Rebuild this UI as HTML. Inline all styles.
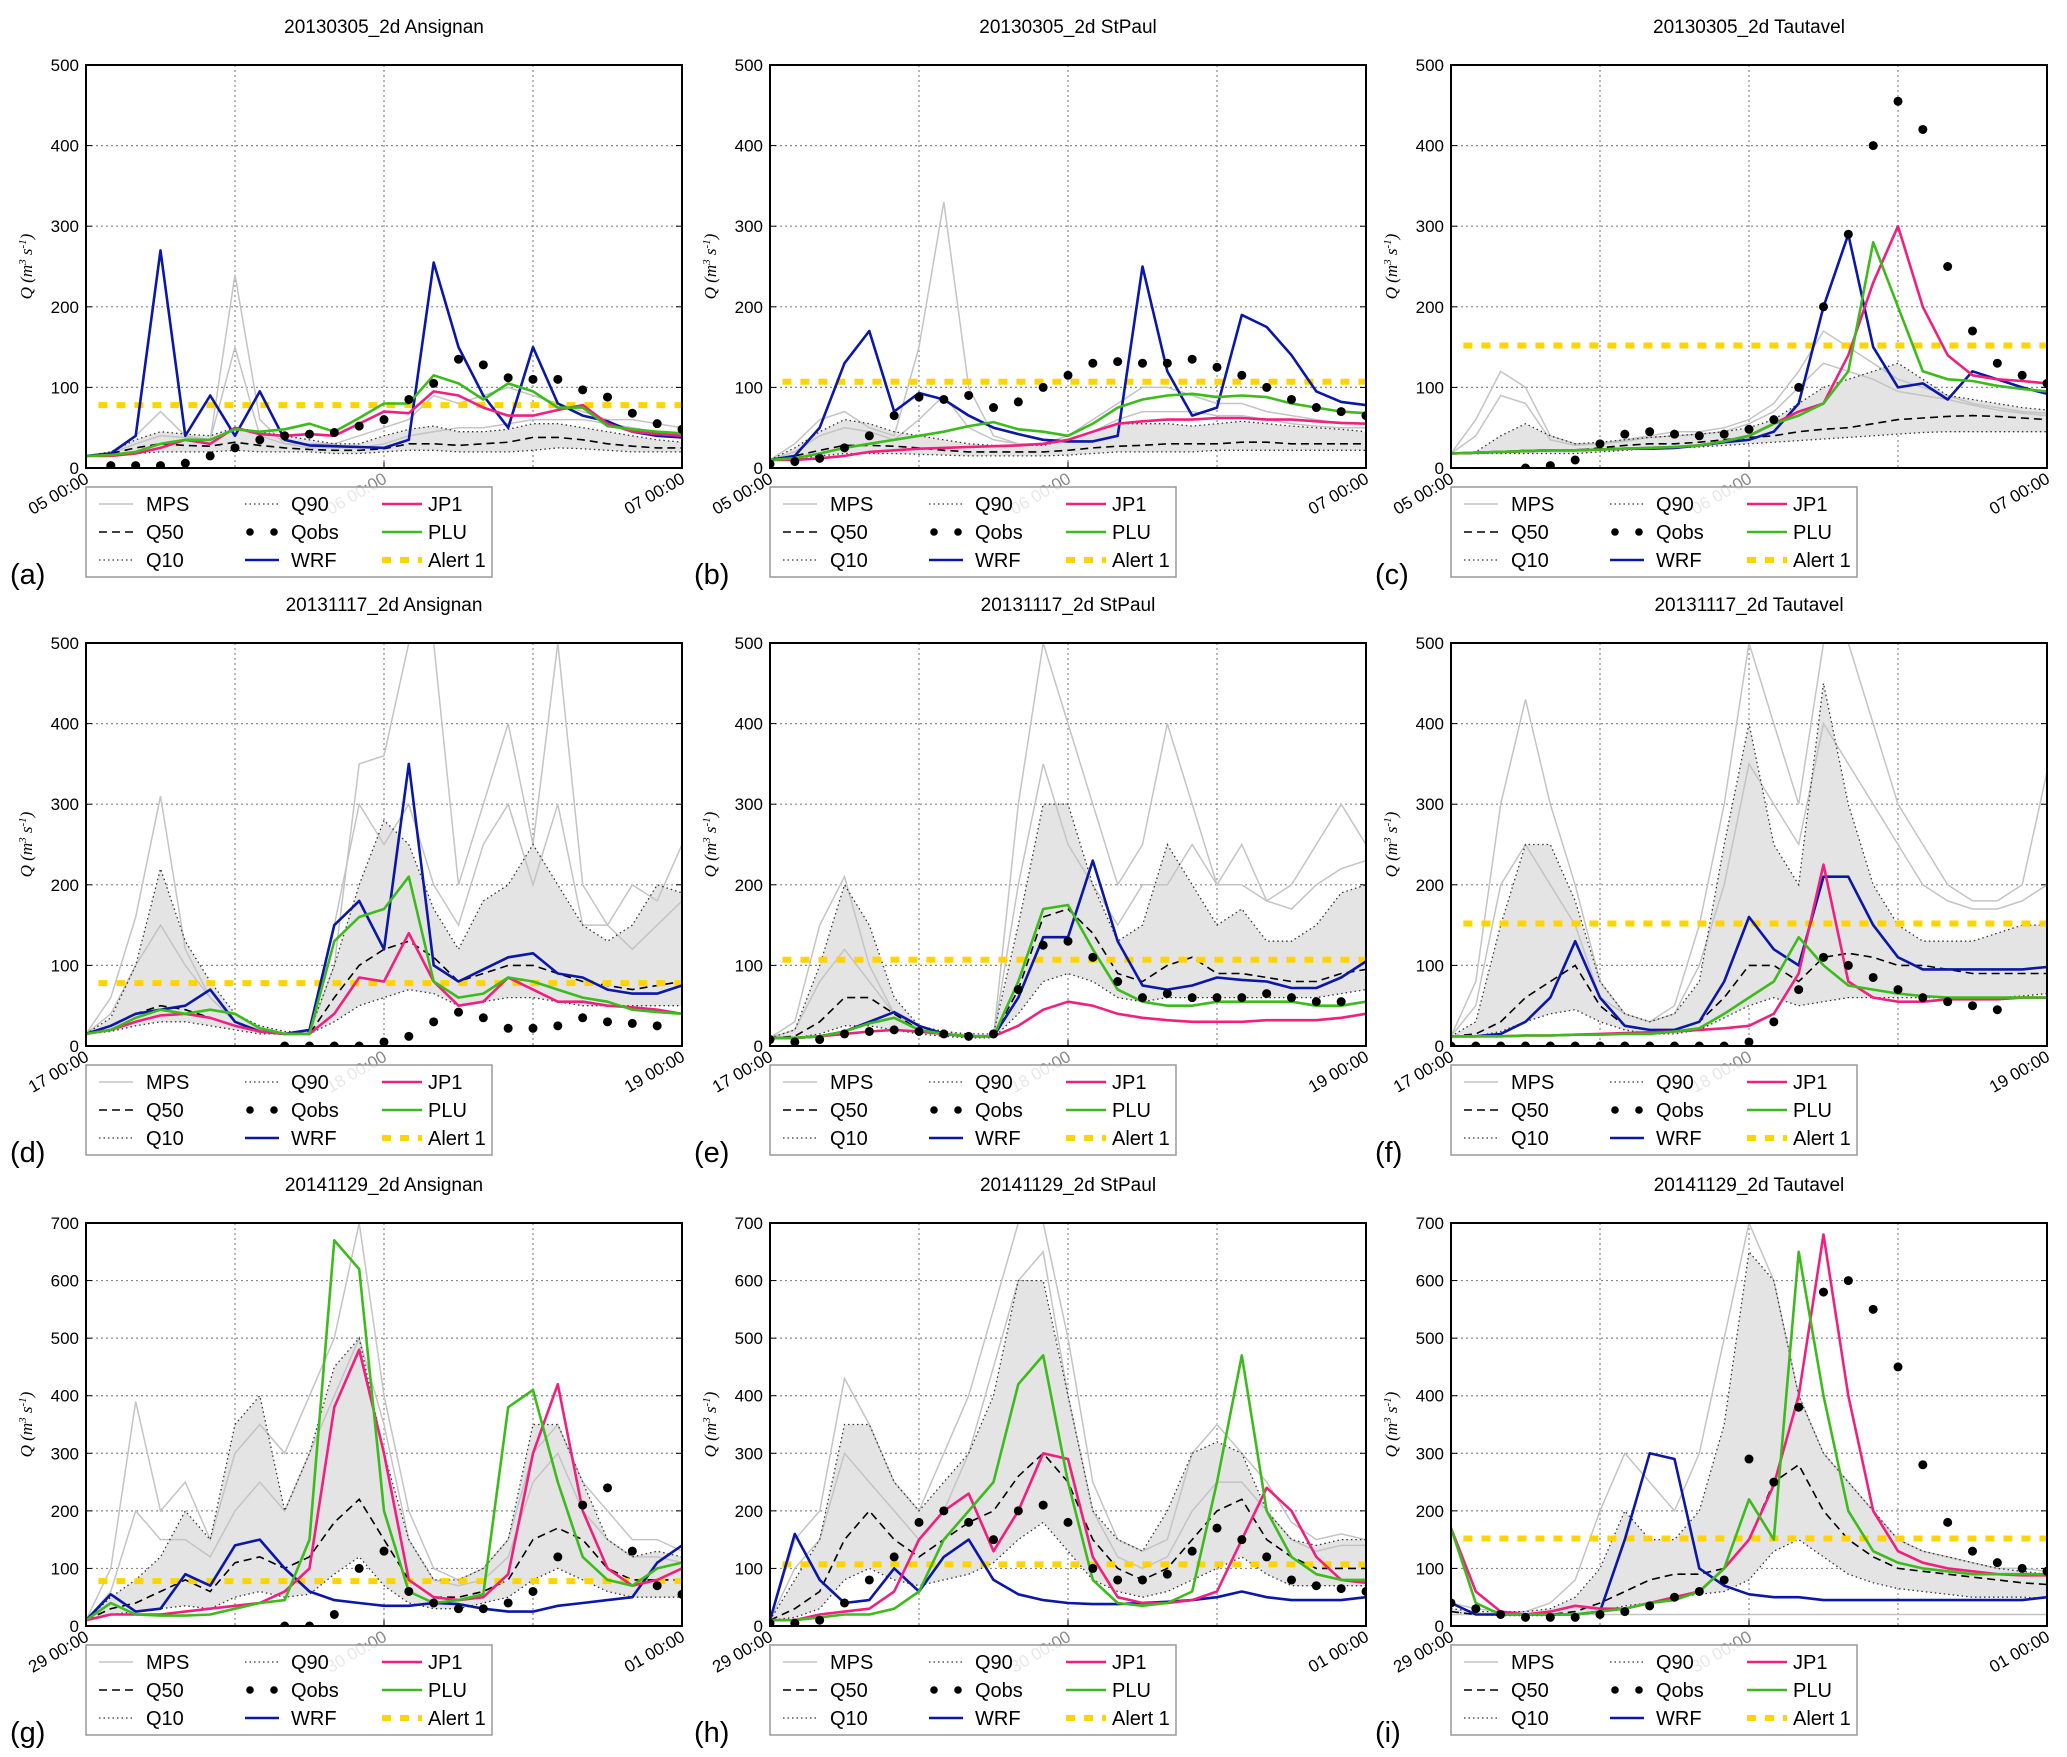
<!DOCTYPE html>
<html><head><meta charset="utf-8"><style>
html,body{margin:0;padding:0;background:#fff;}
svg{display:block;font-family:"Liberation Sans",sans-serif;}
</style></head><body>
<svg id="fig" width="2067" height="1757" viewBox="0 0 2067 1757" xmlns="http://www.w3.org/2000/svg"></svg>
<script>
const T=[0,2,4,6,8,10,12,14,16,18,20,22,24,26,28,30,32,34,36,38,40,42,44,46,48];
const titles=["20130305_2d  Ansignan","20130305_2d  StPaul","20130305_2d  Tautavel","20131117_2d  Ansignan","20131117_2d  StPaul","20131117_2d  Tautavel","20141129_2d  Ansignan","20141129_2d  StPaul","20141129_2d  Tautavel"];
const panelLabels=["(a)","(b)","(c)","(d)","(e)","(f)","(g)","(h)","(i)"];
const xTickLabels=[["05 00:00","06 00:00","07 00:00"],["17 00:00","18 00:00","19 00:00"],["29 00:00","30 00:00","01 00:00"]];
const yMax=[500,500,700];
const alerts=[78,107,152,78,107,152,78,107,152];
// (a)
const a_wrf=[15,18,40,270,40,90,40,95,35,28,27,26,25,35,255,150,90,50,150,80,65,58,45,40,38];
const a_plu=[15,16,20,30,35,35,48,45,48,55,45,62,80,80,115,105,85,105,95,75,75,52,48,45,43];
const a_jp1=[15,15,18,25,35,30,50,42,40,42,40,55,70,68,95,90,75,65,65,72,78,55,45,42,40];
const a_obs=[null,3,3,3,6,15,25,35,40,42,44,52,60,85,105,135,128,112,110,110,97,88,68,55,48];
const a_q50=[15,18,25,30,28,27,32,28,25,23,22,22,24,30,30,28,30,32,38,38,35,30,27,25,25];
const a_q10=[15,15,18,20,20,20,22,20,20,20,18,18,20,22,22,20,20,20,22,25,24,22,20,20,20];
const a_q90=[15,20,35,45,42,40,50,45,40,35,30,30,40,48,52,45,45,48,55,55,50,45,40,35,32];
const a_mps1=[15,20,40,70,40,35,240,60,30,25,25,25,30,40,45,50,50,55,60,60,60,55,50,45,40];
const a_mps2=[15,18,30,40,38,35,150,40,30,30,30,40,50,60,90,80,90,100,90,80,70,60,60,55,50];
// (b)
const b_wrf=[10,15,50,130,170,70,93,85,65,50,42,35,33,33,40,250,120,65,75,190,175,140,95,82,78];
const b_plu=[10,12,18,25,30,35,40,45,52,57,48,45,40,55,75,85,90,92,88,90,88,80,75,70,68];
const b_jp1=[10,10,12,15,20,22,24,25,26,27,28,30,35,45,55,58,60,60,62,62,60,60,58,56,55];
const b_obs=[5,8,12,25,40,65,88,85,90,75,82,100,115,130,132,130,130,135,125,115,100,85,75,70,65];
const b_q50=[10,15,22,28,28,27,25,22,20,20,20,20,22,25,27,28,30,30,30,32,32,30,30,30,30];
const b_q10=[10,12,15,18,18,18,17,16,15,15,15,15,16,18,20,20,20,20,22,22,22,22,22,22,22];
const b_q90=[10,25,45,60,55,45,40,35,30,28,28,28,35,45,55,55,55,52,55,58,55,52,50,48,45];
const b_mps1=[10,30,60,70,50,40,150,330,100,40,30,30,40,60,80,100,100,90,80,80,70,65,60,55,55];
const b_mps2=[10,20,40,50,45,35,60,90,50,35,30,30,35,45,60,70,70,70,65,65,60,55,52,50,50];
// (c)
const c_wrf=[18,19,20,21,22,22,23,24,24,25,28,32,35,45,80,200,290,150,100,105,85,120,110,100,92];
const c_plu=[18,19,20,21,22,22,23,24,25,26,28,33,40,55,65,80,120,280,200,120,110,108,102,98,95];
const c_jp1=[18,19,20,21,22,22,23,24,25,26,28,33,40,55,70,80,140,230,300,200,140,115,110,108,105];
const c_obs=[null,null,null,0,3,10,30,42,45,42,40,42,48,60,100,200,290,400,455,420,250,170,130,115,105];
const c_q50=[18,18,20,22,22,22,25,28,30,30,32,35,38,40,45,48,50,55,60,62,64,65,64,62,60];
const c_q10=[18,18,18,18,18,18,20,22,24,25,26,28,30,32,34,36,38,40,42,44,45,45,45,45,45];
const c_q90=[18,20,40,55,40,30,32,35,38,40,42,45,50,60,80,100,110,120,130,110,90,85,80,75,72];
const c_mps1=[18,60,120,100,40,30,30,35,40,45,45,50,60,80,120,170,150,130,110,100,90,80,75,70,68];
const c_mps2=[18,40,90,80,35,28,30,33,38,40,42,45,55,70,100,130,120,110,95,90,85,78,72,68,65];
// (d)
const d_wrf=[15,25,40,45,50,70,30,18,15,20,150,180,120,350,100,80,95,110,115,90,85,70,65,65,75];
const d_plu=[15,20,35,45,40,45,40,22,15,15,130,160,170,210,80,60,65,85,80,70,60,55,45,42,40];
const d_jp1=[15,20,30,38,40,35,25,18,15,15,40,85,80,140,80,50,55,85,70,55,55,50,48,45,40];
const d_obs=[null,null,null,null,null,null,null,null,0,0,0,0,5,12,30,42,35,22,22,25,35,30,28,25,null];
const d_q50=[15,25,40,50,45,35,25,18,15,15,60,100,120,130,110,80,90,100,100,90,80,75,70,75,80];
const d_q10=[15,18,25,30,30,25,20,15,15,15,30,50,60,70,65,50,55,60,60,55,50,50,50,50,50];
const d_q90=[15,35,100,220,130,80,40,25,18,18,100,200,280,250,170,120,180,200,250,200,150,130,150,200,190];
const d_mps1=[15,60,160,310,120,60,30,20,15,15,100,350,360,500,500,200,300,400,250,500,200,150,200,180,250];
const d_mps2=[15,40,100,150,100,60,30,20,15,15,150,300,250,300,200,150,250,300,200,300,150,150,120,150,180];
// (e)
const e_wrf=[10,10,12,18,30,42,25,15,12,12,60,135,135,230,130,75,70,75,85,82,80,72,72,85,105];
const e_plu=[10,10,12,18,28,35,20,15,12,12,80,170,175,120,70,55,50,50,55,55,55,55,50,50,55];
const e_jp1=[10,10,12,15,18,20,18,15,12,12,25,45,55,50,40,35,32,30,30,30,32,32,32,35,40];
const e_obs=[8,5,8,15,18,20,18,15,12,15,70,125,130,110,80,60,65,60,60,60,65,60,55,55,null];
const e_q50=[10,12,30,60,60,40,20,15,12,12,70,160,170,140,90,80,100,110,90,90,85,80,80,90,95];
const e_q10=[10,10,15,25,25,20,15,12,10,10,40,80,90,80,60,55,60,60,60,60,60,60,60,65,70];
const e_q90=[10,20,100,200,150,60,25,18,15,15,150,300,300,200,130,150,250,200,150,170,130,130,150,190,200];
const e_mps1=[10,30,150,210,100,40,20,15,12,12,300,500,400,300,200,250,400,300,200,250,180,200,250,300,250];
const e_mps2=[10,20,80,120,80,40,20,15,12,12,200,350,250,200,150,200,200,250,200,200,180,170,200,220,230];
// (f)
const f_wrf=[12,12,15,30,60,130,60,25,20,20,30,80,160,120,100,210,210,150,110,95,95,95,95,95,98];
const f_plu=[12,12,12,13,13,14,14,15,15,18,22,40,60,80,135,100,75,70,65,62,60,60,60,60,60];
const f_jp1=[12,12,12,13,13,14,15,16,17,18,20,22,25,40,90,225,80,60,55,55,58,58,58,60,60];
const f_obs=[0,0,0,0,0,0,0,0,0,0,0,0,5,30,70,110,100,85,70,60,55,50,45,null,null];
const f_q50=[12,15,30,60,80,100,50,25,20,20,30,60,100,100,80,110,115,110,100,100,95,90,90,90,90];
const f_q10=[12,12,18,30,40,45,30,20,15,15,20,35,50,60,50,55,60,60,60,60,60,60,60,62,65];
const f_q90=[12,30,150,250,250,180,80,40,30,40,80,250,400,250,200,450,300,200,150,130,130,130,140,150,150];
const f_mps1=[12,80,300,430,300,200,80,40,30,50,150,300,500,400,300,500,500,400,300,250,200,180,180,200,340];
const f_mps2=[12,50,200,250,200,150,60,40,30,40,100,200,350,300,250,400,350,300,250,200,180,170,170,180,200];
// (g)
const g_wrf=[10,55,25,30,90,70,140,150,100,60,45,40,35,35,40,38,30,25,25,35,40,45,50,110,140];
const g_plu=[10,40,20,18,18,20,30,40,45,150,670,620,200,60,40,45,55,380,410,250,120,80,70,100,110];
const g_jp1=[10,20,20,20,25,30,35,40,60,100,380,480,300,80,50,45,50,90,300,420,200,100,70,80,100];
const g_obs=[null,null,null,null,null,null,null,null,0,0,20,100,130,60,40,30,30,40,60,120,210,240,130,70,55];
const g_q50=[10,30,40,60,80,60,110,120,100,120,180,220,150,80,50,50,60,80,150,170,150,100,80,80,80];
const g_q10=[10,20,25,30,35,30,50,60,50,55,90,120,70,40,30,30,40,50,80,100,80,60,50,50,50];
const g_q90=[10,50,80,120,200,150,350,400,200,300,450,500,300,150,80,80,100,150,350,350,250,150,120,130,120];
const g_mps1=[10,100,390,200,250,150,300,350,300,400,500,700,400,200,100,80,100,150,300,350,250,200,150,150,130];
const g_mps2=[10,60,200,150,150,120,200,250,200,300,400,500,350,150,80,70,80,120,250,300,200,150,120,120,110];
// (h)
const h_wrf=[10,160,80,40,45,100,60,120,150,80,55,45,40,38,38,40,42,45,50,60,50,45,45,45,50];
const h_plu=[10,10,15,20,20,30,60,150,200,250,420,470,250,80,40,35,40,60,250,470,200,120,90,80,80];
const h_jp1=[10,10,20,25,30,60,150,200,230,130,200,300,290,120,50,40,40,45,60,150,240,200,120,80,75];
const h_obs=[5,5,10,40,80,120,180,200,180,150,200,210,180,100,80,80,90,130,170,150,120,80,70,65,60];
const h_q50=[10,30,60,150,200,150,120,150,180,200,260,300,250,150,100,80,100,150,200,220,150,120,100,100,100];
const h_q10=[10,15,30,80,100,80,70,80,90,110,150,180,130,80,60,50,60,80,100,120,90,70,70,70,70];
const h_q90=[10,80,150,350,350,250,200,250,300,400,600,600,400,200,150,130,200,300,320,300,200,150,140,150,150];
const h_mps1=[10,150,200,430,350,250,200,300,400,550,700,700,500,250,150,130,150,300,350,300,250,180,150,160,150];
const h_mps2=[10,100,150,300,250,200,150,200,300,450,600,650,400,200,120,100,120,200,250,250,200,150,130,140,140];
// (i)
const i_wrf=[40,20,20,20,20,20,25,150,300,290,100,70,55,50,50,45,45,45,45,45,45,45,45,45,50];
const i_plu=[170,40,20,20,20,20,25,30,40,45,60,100,220,150,650,400,200,130,110,100,95,90,90,90,90];
const i_jp1=[170,60,25,20,25,35,30,30,40,50,60,100,150,245,400,680,400,200,130,110,100,95,90,88,88];
const i_obs=[40,30,20,15,15,15,20,25,35,50,60,80,290,250,380,580,600,550,450,280,180,130,110,100,95];
const i_q50=[25,20,20,20,20,25,40,60,80,90,90,100,150,250,280,200,150,120,100,95,90,85,80,75,72];
const i_q10=[25,20,18,18,18,20,25,35,40,50,55,60,80,130,150,120,90,75,65,60,55,50,50,50,48];
const i_q90=[30,25,25,25,30,50,100,200,150,150,200,350,650,600,400,300,250,200,150,130,120,110,100,95,90];
const i_mps1=[40,30,25,25,40,80,200,300,250,200,300,500,700,600,400,300,250,200,150,130,120,110,100,100,95];
const i_mps2=[20,20,20,20,20,20,20,20,20,20,20,20,20,20,20,20,20,20,20,20,20,20,20,20,20];

const P=[
 {wrf:a_wrf,plu:a_plu,jp1:a_jp1,obs:a_obs,q50:a_q50,q10:a_q10,q90:a_q90,mps:[a_mps1,a_mps2]},
 {wrf:b_wrf,plu:b_plu,jp1:b_jp1,obs:b_obs,q50:b_q50,q10:b_q10,q90:b_q90,mps:[b_mps1,b_mps2]},
 {wrf:c_wrf,plu:c_plu,jp1:c_jp1,obs:c_obs,q50:c_q50,q10:c_q10,q90:c_q90,mps:[c_mps1,c_mps2]},
 {wrf:d_wrf,plu:d_plu,jp1:d_jp1,obs:d_obs,q50:d_q50,q10:d_q10,q90:d_q90,mps:[d_mps1,d_mps2]},
 {wrf:e_wrf,plu:e_plu,jp1:e_jp1,obs:e_obs,q50:e_q50,q10:e_q10,q90:e_q90,mps:[e_mps1,e_mps2]},
 {wrf:f_wrf,plu:f_plu,jp1:f_jp1,obs:f_obs,q50:f_q50,q10:f_q10,q90:f_q90,mps:[f_mps1,f_mps2]},
 {wrf:g_wrf,plu:g_plu,jp1:g_jp1,obs:g_obs,q50:g_q50,q10:g_q10,q90:g_q90,mps:[g_mps1,g_mps2]},
 {wrf:h_wrf,plu:h_plu,jp1:h_jp1,obs:h_obs,q50:h_q50,q10:h_q10,q90:h_q90,mps:[h_mps1,h_mps2]},
 {wrf:i_wrf,plu:i_plu,jp1:i_jp1,obs:i_obs,q50:i_q50,q10:i_q10,q90:i_q90,mps:[i_mps1,i_mps2]}
];

const NS="http://www.w3.org/2000/svg";
const svg=document.getElementById('fig');
function mk(tag,attrs,parent){const e=document.createElementNS(NS,tag);for(const k in attrs)e.setAttribute(k,attrs[k]);(parent||svg).appendChild(e);return e;}
const colX=[86,770,1451], rowY=[65,643,1223], PW=596, PH=403;
const defs=mk('defs',{});

for(let p=0;p<9;p++){
  const r=Math.floor(p/3), c=p%3;
  const x0=colX[c], y0=rowY[r], ymax=yMax[r], d=P[p];
  const xs=t=>x0+t/48*PW;
  const ys=v=>y0+PH-v/ymax*PH;
  const g=mk('g',{});
  
  
  const cp=mk('clipPath',{id:'clip'+p},defs);
  mk('rect',{x:x0,y:y0,width:PW,height:PH},cp);
  const tt=mk('text',{x:x0+PW/2,y:y0-32,'text-anchor':'middle','font-size':19},g);
  tt.textContent=titles[p];
  
  
  for(let v=100;v<ymax;v+=100){mk('line',{x1:x0,x2:x0+PW,y1:ys(v),y2:ys(v),stroke:'#888','stroke-width':1.2,'stroke-dasharray':'2 3'},g);}
  for(let t=12;t<48;t+=12){mk('line',{x1:xs(t),x2:xs(t),y1:y0,y2:y0+PH,stroke:'#888','stroke-width':1.2,'stroke-dasharray':'2 3'},g);}
  for(let v=0;v<=ymax;v+=100){
    const tl=mk('text',{x:x0-7,y:ys(v)+6,'text-anchor':'end','font-size':17},g);tl.textContent=v;
    
    
    mk('line',{x1:x0,x2:x0+6,y1:ys(v),y2:ys(v),stroke:'#000','stroke-width':1},g);
    mk('line',{x1:x0+PW-6,x2:x0+PW,y1:ys(v),y2:ys(v),stroke:'#000','stroke-width':1},g);
  }
  const yl=mk('text',{x:0,y:0,'text-anchor':'middle','font-size':17,'font-family':'Liberation Serif, serif','font-style':'italic',transform:`translate(${x0-54},${y0+PH/2}) rotate(-90)`},g);
  yl.innerHTML='Q (m<tspan font-size="11" dy="-6">3</tspan><tspan dy="6"> s</tspan><tspan font-size="11" dy="-6">-1</tspan><tspan dy="6">)</tspan>';
  
  
  const pg=mk('g',{'clip-path':`url(#clip${p})`},g);
  const line=(arr)=>{let s='';arr.forEach((v,i)=>{if(v!==null)s+=(s?'L':'M')+xs(T[i]).toFixed(1)+' '+ys(v).toFixed(1);});return s;};
  let band='M'+T.map((t,i)=>xs(t).toFixed(1)+' '+ys(d.q90[i]).toFixed(1)).join('L');
  for(let i=T.length-1;i>=0;i--)band+='L'+xs(T[i]).toFixed(1)+' '+ys(d.q10[i]).toFixed(1);
  const bd=mk('path',{d:band+'Z',fill:'#e4e4e4',stroke:'none'},pg);
  
  
  d.mps.forEach(m=>{const e=mk('path',{d:line(m),fill:'none',stroke:'#c4c4c4','stroke-width':1.5},pg);
    
    });
  [['q10','1.5 3'],['q90','1.5 3']].forEach(([k,da])=>{const e=mk('path',{d:line(d[k]),fill:'none',stroke:'#333','stroke-width':1.3,'stroke-dasharray':da},pg);
    
    });
  const q5=mk('path',{d:line(d.q50),fill:'none',stroke:'#000','stroke-width':1.6,'stroke-dasharray':'8 5'},pg);
  
  
  const al=mk('line',{x1:xs(1),x2:x0+PW,y1:ys(alerts[p]),y2:ys(alerts[p]),stroke:'#ffd400','stroke-width':6,'stroke-dasharray':'9 9'},pg);
  
  
  [['wrf','#0b17a6'],['jp1','#f0207f'],['plu','#3dbb1c']].forEach(([k,col])=>{
    const e=mk('path',{d:line(d[k]),fill:'none',stroke:col,'stroke-width':2.6,'stroke-linejoin':'round'},pg);
    
    
  });
  d.obs.forEach((v,i)=>{if(v===null)return;
    const e=mk('circle',{cx:xs(T[i]),cy:ys(v),r:4.5,fill:'#000'},pg);
    
    });
  mk('rect',{x:x0,y:y0,width:PW,height:PH,fill:'none',stroke:'#000','stroke-width':2},g);
  [0,24,48].forEach((t,k)=>{
    mk('line',{x1:xs(t),x2:xs(t),y1:y0+PH-6,y2:y0+PH,stroke:'#000'},g);
    const xt=mk('text',{x:0,y:0,'text-anchor':'end','font-size':17,fill:k==1?'#888':'#000',transform:`translate(${xs(t)+4},${y0+PH+14}) rotate(-30)`},g);
    xt.textContent=xTickLabels[r][k];
    
    
  });
  const lx=x0, ly=y0+PH+19, lg=mk('g',{},g);
  
  
  mk('rect',{x:lx,y:ly,width:406,height:90,fill:'#fff','fill-opacity':0.8,stroke:'#999','stroke-width':1.5},lg);
  const entries=[
    ['MPS',{stroke:'#c4c4c4','stroke-width':1.5}],['Q90',{stroke:'#333','stroke-width':1.3,'stroke-dasharray':'1.5 3'}],['JP1',{stroke:'#f0207f','stroke-width':2.6}],
    ['Q50',{stroke:'#000','stroke-width':1.6,'stroke-dasharray':'8 5'}],['Qobs',null],['PLU',{stroke:'#3dbb1c','stroke-width':2.6}],
    ['Q10',{stroke:'#333','stroke-width':1.3,'stroke-dasharray':'1.5 3'}],['WRF',{stroke:'#0b17a6','stroke-width':2.6}],['Alert 1',{stroke:'#ffd400','stroke-width':6,'stroke-dasharray':'9 9'}]
  ];
  const cx=[13,159,296], tx=[60,205,342], rys=[17,45,73];
  entries.forEach((en,i)=>{
    const cc=i%3, rr=Math.floor(i/3), yy=ly+rys[rr];
    const eg=mk('g',{},lg);
    
    
    if(en[1]){const a=Object.assign({x1:lx+cx[cc],x2:lx+cx[cc]+(cc==2?40:34),y1:yy,y2:yy,fill:'none'},en[1]);mk('line',a,eg);}
    else{mk('circle',{cx:lx+cx[cc]+5,cy:yy,r:3.8,fill:'#000'},eg);mk('circle',{cx:lx+cx[cc]+29,cy:yy,r:3.8,fill:'#000'},eg);}
    const te=mk('text',{x:lx+tx[cc],y:yy+7,'font-size':20},eg);te.textContent=en[0];
  });
  const pl=mk('text',{x:x0-76,y:y0+PH+116,'font-size':29},g);
  pl.textContent=panelLabels[p];
  
  
}
</script>
</body></html>
